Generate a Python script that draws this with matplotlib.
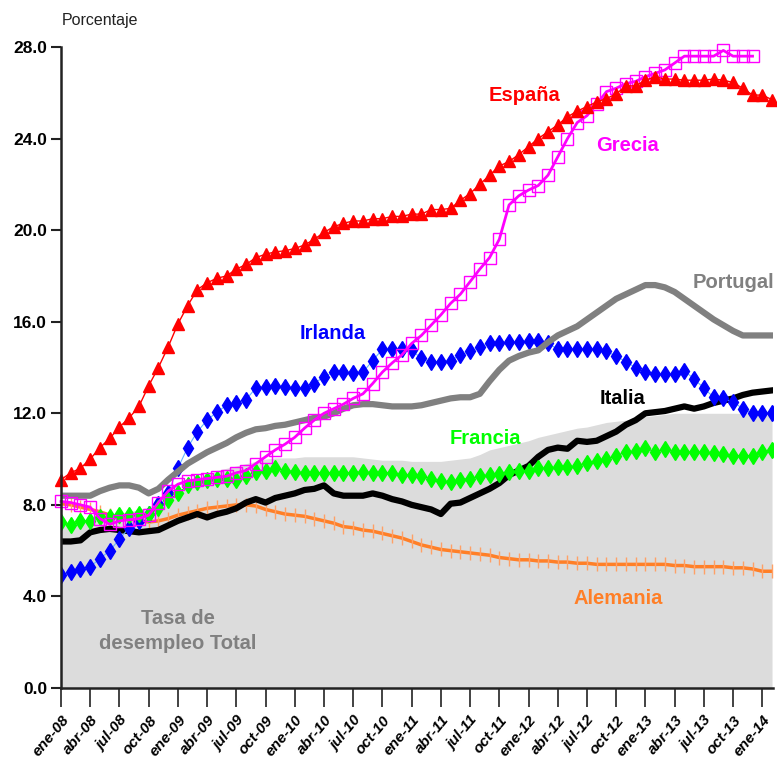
import matplotlib.pyplot as plt
import numpy as np

# monthly series, ene-08 .. feb-14 (74 months)
espana = [9.1, 9.4, 9.6, 10.0, 10.5, 10.9, 11.4, 11.8, 12.3, 13.2, 14.0, 14.9,
          15.9, 16.7, 17.4, 17.7, 17.9, 18.0, 18.3, 18.5, 18.8, 18.95, 19.05, 19.1,
          19.2, 19.35, 19.6, 19.9, 20.15, 20.3, 20.4, 20.4, 20.5, 20.5, 20.6, 20.6,
          20.7, 20.7, 20.9, 20.9, 20.95, 21.3, 21.6, 22.0, 22.4, 22.8, 23.0, 23.3,
          23.65, 24.0, 24.3, 24.6, 24.95, 25.2, 25.4, 25.6, 25.75, 25.95, 26.3, 26.3,
          26.55, 26.7, 26.6, 26.6, 26.55, 26.55, 26.55, 26.6, 26.55, 26.45, 26.2, 25.9,
          25.9, 25.7]
grecia = [8.15, 8.1, 8.0, 7.9, 7.4, 7.15, 7.3, 7.35, 7.4, 7.55, 8.1, 8.6,
          8.9, 9.05, 9.1, 9.15, 9.2, 9.25, 9.4, 9.5, 9.8, 10.1, 10.4, 10.65,
          10.95, 11.35, 11.7, 12.0, 12.2, 12.4, 12.65, 12.85, 13.3, 13.8, 14.2, 14.55,
          15.05, 15.4, 15.85, 16.3, 16.8, 17.2, 17.75, 18.3, 18.8, 19.6, 21.1, 21.5,
          21.75, 21.95, 22.4, 23.2, 24.0, 24.7, 25.0, 25.5, 26.05, 26.2, 26.4, 26.5,
          26.7, 26.85, 27.0, 27.3, 27.6, 27.6, 27.6, 27.6, 27.85, 27.6, 27.6, 27.6,
          np.nan, np.nan]
irlanda = [4.95, 5.05, 5.2, 5.3, 5.65, 6.0, 6.5, 7.0, 7.3, 7.6, 8.05, 8.5,
           9.6, 10.5, 11.2, 11.7, 12.05, 12.35, 12.45, 12.6, 13.1, 13.15, 13.2, 13.15,
           13.1, 13.1, 13.3, 13.6, 13.8, 13.8, 13.75, 13.8, 14.3, 14.8, 14.8, 14.8,
           14.75, 14.4, 14.25, 14.25, 14.3, 14.55, 14.7, 14.9, 15.05, 15.05, 15.1, 15.1,
           15.15, 15.15, 15.05, 14.8, 14.8, 14.8, 14.8, 14.8, 14.7, 14.5, 14.25, 14.0,
           13.8, 13.7, 13.7, 13.7, 13.85, 13.5, 13.1, 12.7, 12.65, 12.5, 12.2, 12.0,
           12.0, 12.0]
portugal = [8.4, 8.4, 8.4, 8.4, 8.6, 8.75, 8.85, 8.85, 8.75, 8.5, 8.7, 9.1,
            9.45, 9.8, 10.05, 10.3, 10.5, 10.7, 10.95, 11.15, 11.3, 11.35, 11.45, 11.5,
            11.6, 11.7, 11.8, 11.85, 12.0, 12.2, 12.35, 12.4, 12.4, 12.35, 12.3, 12.3,
            12.3, 12.35, 12.45, 12.55, 12.65, 12.7, 12.7, 12.85, 13.4, 13.9, 14.3, 14.5,
            14.65, 14.75, 15.1, 15.4, 15.6, 15.8, 16.1, 16.4, 16.7, 17.0, 17.2, 17.4,
            17.6, 17.6, 17.5, 17.3, 17.0, 16.7, 16.4, 16.1, 15.85, 15.6, 15.4, 15.4,
            15.4, 15.4]
italia = [6.4, 6.4, 6.45, 6.8, 6.9, 6.95, 6.9, 6.85, 6.8, 6.85, 6.9, 7.1,
          7.3, 7.45, 7.6, 7.45, 7.6, 7.7, 7.85, 8.1, 8.25, 8.1, 8.3, 8.4,
          8.5, 8.65, 8.7, 8.85, 8.5, 8.4, 8.4, 8.4, 8.5, 8.4, 8.25, 8.15,
          8.0, 7.9, 7.8, 7.6, 8.05, 8.1, 8.3, 8.5, 8.7, 8.95, 9.3, 9.5,
          9.7, 10.1, 10.4, 10.5, 10.45, 10.8, 10.75, 10.8, 11.0, 11.2, 11.5, 11.7,
          12.0, 12.05, 12.1, 12.2, 12.3, 12.2, 12.3, 12.45, 12.55, 12.65, 12.8, 12.9,
          12.95, 13.0]
francia = [7.25, 7.1, 7.3, 7.3, 7.45, 7.45, 7.55, 7.55, 7.6, 7.6, 7.85, 8.2,
           8.5, 8.85, 9.0, 9.1, 9.15, 9.15, 9.1, 9.25, 9.45, 9.5, 9.6, 9.5,
           9.45, 9.4, 9.4, 9.4, 9.4, 9.4, 9.4, 9.45, 9.4, 9.4, 9.4, 9.3,
           9.3, 9.25, 9.15, 9.05, 9.0, 9.1, 9.15, 9.25, 9.3, 9.35, 9.45, 9.5,
           9.5, 9.6, 9.6, 9.65, 9.65, 9.7, 9.85, 9.9, 10.0, 10.15, 10.3, 10.35,
           10.5, 10.3, 10.45, 10.3, 10.3, 10.3, 10.3, 10.25, 10.2, 10.15, 10.15, 10.15,
           10.3, 10.4]
alemania = [8.05, 8.0, 7.9, 7.8, 7.7, 7.55, 7.45, 7.4, 7.3, 7.25, 7.3, 7.4,
            7.55, 7.65, 7.75, 7.85, 7.9, 7.95, 8.0, 8.0, 7.95, 7.8, 7.7, 7.6,
            7.55, 7.5, 7.4, 7.3, 7.2, 7.05, 7.0, 6.9, 6.85, 6.75, 6.65, 6.55,
            6.4, 6.25, 6.15, 6.05, 6.0, 5.95, 5.9, 5.85, 5.8, 5.7, 5.65, 5.6,
            5.6, 5.55, 5.55, 5.5, 5.5, 5.45, 5.45, 5.4, 5.4, 5.4, 5.4, 5.4,
            5.4, 5.4, 5.4, 5.35, 5.35, 5.3, 5.3, 5.3, 5.3, 5.25, 5.25, 5.2,
            5.1, 5.1]
total = [7.2, 7.2, 7.2, 7.3, 7.4, 7.5, 7.6, 7.7, 7.8, 7.9, 8.1, 8.3,
         8.5, 8.8, 9.1, 9.3, 9.5, 9.6, 9.7, 9.8, 9.9, 10.0, 10.05, 10.05,
         10.05, 10.1, 10.1, 10.1, 10.1, 10.1, 10.1, 10.05, 10.0, 9.95, 9.95, 9.95,
         9.9, 9.9, 9.9, 9.9, 9.95, 10.0, 10.05, 10.2, 10.4, 10.5, 10.6, 10.7,
         10.8, 10.95, 11.05, 11.15, 11.25, 11.35, 11.4, 11.5, 11.6, 11.65, 11.7, 11.75,
         11.85, 11.9, 11.95, 12.0, 12.0, 12.0, 12.0, 12.0, 12.0, 12.0, 12.0, 12.0,
         11.95, 11.9]

tick_labels = ["ene-08", "abr-08", "jul-08", "oct-08", "ene-09", "abr-09", "jul-09",
               "oct-09", "ene-10", "abr-10", "jul-10", "oct-10", "ene-11", "abr-11",
               "jul-11", "oct-11", "ene-12", "abr-12", "jul-12", "oct-12", "ene-13",
               "abr-13", "jul-13", "oct-13", "ene-14"]

plt.rcParams["font.family"] = ["Liberation Sans", "DejaVu Sans"]

x = np.arange(len(espana))

fig = plt.figure(figsize=(7.77, 7.77), dpi=100)
ax = fig.add_axes([61 / 777, 1 - 688 / 777, 712 / 777, 641 / 777])

# euro-area total as shaded background
ax.fill_between(x, 0, total, color="#dcdcdc", lw=0, zorder=1)

ax.plot(x, alemania, color="#ff7f27", lw=2.5, marker="|", ms=10, mew=1,
        mec="#ffa066", zorder=3)
ax.plot(x, italia, color="black", lw=4.5, zorder=4)
ax.plot(x, irlanda, color="#66b3ff", lw=0.8, marker="d", ms=8.5,
        mfc="#0000ff", mec="#0000ff", zorder=5)
ax.plot(x, francia, color="#00cc00", lw=0.8, marker="d", ms=8.5,
        mfc="#00ff00", mec="#00ff00", zorder=6)
ax.plot(x, portugal, color="#808080", lw=4.5, zorder=6)
ax.plot(x, grecia, color="#ff00ff", lw=2, marker="s", ms=8, mfc="none",
        mec="#ff00ff", mew=1, zorder=7, clip_on=False)
ax.plot(x, espana, color="#ff0000", lw=1, marker="^", ms=8.5,
        mfc="#ff0000", mec="#ff0000", zorder=8, clip_on=False)

ax.set_xlim(0, 73.1)
ax.set_ylim(0, 28)
ax.set_yticks(np.arange(0, 28.1, 4))
ax.set_yticklabels([f"{v:.1f}" for v in np.arange(0, 28.1, 4)],
                   fontsize=12.5, fontweight="bold")
ax.set_xticks(x[::3])
ax.set_xticklabels(tick_labels, rotation=50, ha="right", va="top",
                   rotation_mode="anchor", fontsize=11, fontweight="bold",
                   fontstyle="italic")
ax.tick_params(axis="y", length=7, width=1.5, pad=3, color="#222222")
ax.tick_params(axis="x", length=14, width=1.2, pad=4, color="#222222")

for s in ["top", "right"]:
    ax.spines[s].set_visible(False)
for s in ["left", "bottom"]:
    ax.spines[s].set_linewidth(1.8)
    ax.spines[s].set_color("#222222")
    ax.spines[s].set_zorder(9)

# series labels
lab = dict(fontsize=14.5, fontweight="bold", ha="center", va="center", zorder=10)
ax.text(47.6, 25.9, "España", color="#ff0000", **lab)
ax.text(58.2, 23.7, "Grecia", color="#ff00ff", **lab)
ax.text(73.2, 17.7, "Portugal", color="#808080", fontsize=14.5,
        fontweight="bold", ha="right", va="center", zorder=10)
ax.text(27.9, 15.5, "Irlanda", color="#0000ff", **lab)
ax.text(57.6, 12.65, "Italia", color="black", **lab)
ax.text(43.6, 10.9, "Francia", color="#00ff00", **lab)
ax.text(57.2, 3.93, "Alemania", color="#ff7f27", **lab)
ax.text(12.0, 2.5, "Tasa de\ndesempleo Total", color="#808080",
        linespacing=1.4, **lab)

fig.text(62 / 777, 1 - 20 / 777, "Porcentaje", fontsize=11.5, color="#222222",
         ha="left", va="center")

fig.savefig("out.png", dpi=100)
